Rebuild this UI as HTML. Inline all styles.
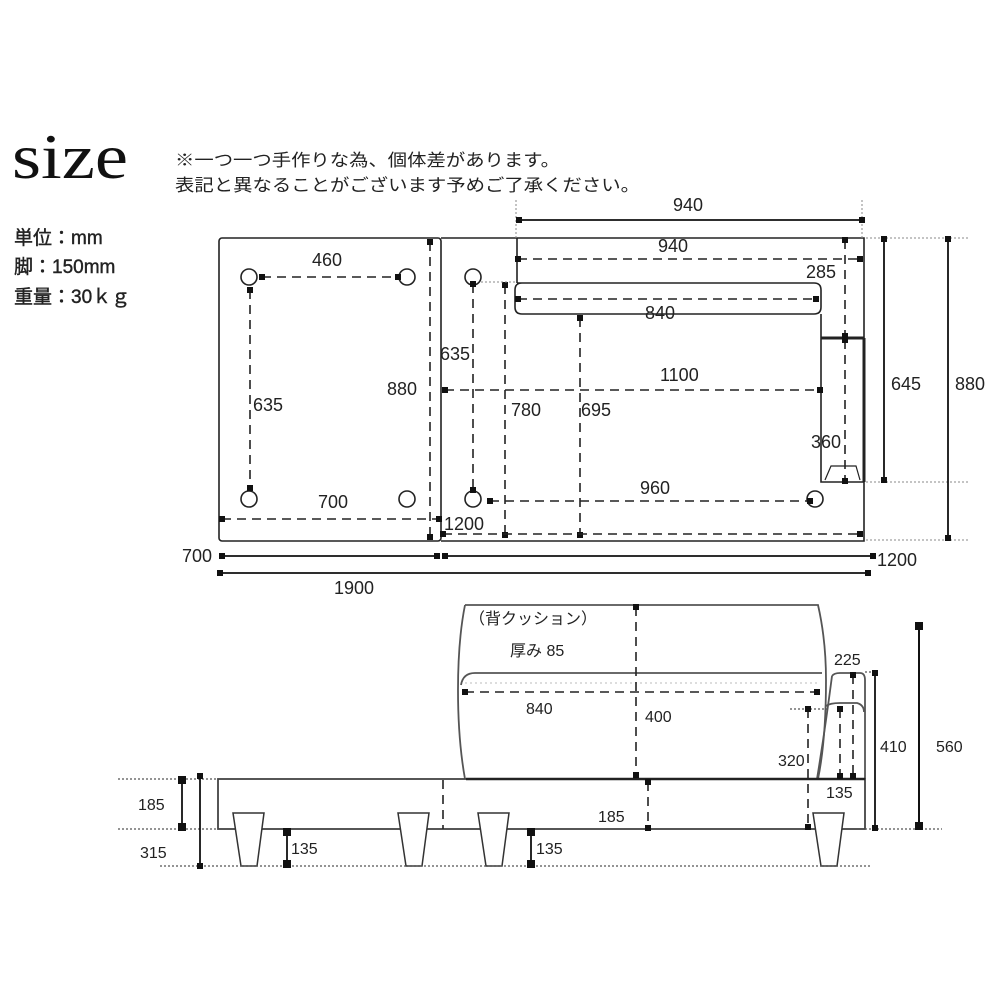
<!DOCTYPE html>
<html><head><meta charset="utf-8"><style>
html,body{margin:0;padding:0;background:#fff;}
svg{display:block;}
text{font-family:"Liberation Sans","Noto Sans CJK JP",sans-serif;fill:#222;}
</style></head><body>
<svg width="1000" height="1000" viewBox="0 0 1000 1000" xmlns="http://www.w3.org/2000/svg">
<defs>
<marker id="sq" viewBox="0 0 6 6" refX="3" refY="3" markerWidth="6" markerHeight="6" markerUnits="userSpaceOnUse"><rect width="6" height="6" fill="#111"/></marker>
<marker id="sqb" viewBox="0 0 8 8" refX="4" refY="4" markerWidth="8" markerHeight="8" markerUnits="userSpaceOnUse"><rect width="8" height="8" fill="#111"/></marker>
</defs>
<text x="12" y="178" style="font-family:'Liberation Serif',serif;font-size:64px;fill:#111" textLength="116" lengthAdjust="spacingAndGlyphs">size</text>
<text x="175" y="166" font-size="17" textLength="385" lengthAdjust="spacingAndGlyphs">※一つ一つ手作りな為、個体差があります。</text>
<text x="175" y="191" font-size="17" textLength="465" lengthAdjust="spacingAndGlyphs">表記と異なることがございます予めご了承ください。</text>
<g font-size="19" fill="#222" stroke="#222" stroke-width="0.4">
<text x="14" y="244">単位：mm</text>
<text x="14" y="273">脚：150mm</text>
<text x="14" y="303">重量：30ｋｇ</text>
</g>

<!-- PLAN -->
<g fill="none" stroke="#222" stroke-width="1.6">
<rect x="219" y="238" width="222" height="303" rx="3"/>
<path d="M441 238 H864 V541 H441"/>
<path d="M517 238 V283"/>
<path d="M517 283 H814 Q821 283 821 290 V307 Q821 314 814 314 H522 Q515 314 515 307 V290 Q515 283 522 283Z"/>
<path d="M821 314 V482 H864"/>
<path d="M821 338 H864" stroke-width="3"/>
<path d="M864 338 V482" stroke-width="3"/>
<path d="M825 480 L831 466 H856 L860 480" stroke-width="1.2"/>
<circle cx="249" cy="277" r="8"/><circle cx="407" cy="277" r="8"/>
<circle cx="249" cy="499" r="8"/><circle cx="407" cy="499" r="8"/>
<circle cx="473" cy="277" r="8"/><circle cx="473" cy="499" r="8"/>
<circle cx="815" cy="499" r="8"/>
</g>
<g stroke="#222" stroke-width="1.6" fill="none" stroke-dasharray="9,6" marker-start="url(#sq)" marker-end="url(#sq)">
<line x1="262" y1="277" x2="398" y2="277"/>
<line x1="250" y1="290" x2="250" y2="488"/>
<line x1="222" y1="519" x2="439" y2="519"/>
<line x1="430" y1="242" x2="430" y2="537"/>
<line x1="473" y1="284" x2="473" y2="490"/>
<line x1="445" y1="390" x2="820" y2="390"/>
<line x1="505" y1="285" x2="505" y2="535"/>
<line x1="580" y1="318" x2="580" y2="535"/>
<line x1="518" y1="299" x2="816" y2="299"/>
<line x1="518" y1="259" x2="860" y2="259"/>
<line x1="845" y1="240" x2="845" y2="336"/>
<line x1="845" y1="340" x2="845" y2="481"/>
<line x1="490" y1="501" x2="810" y2="501"/>
<line x1="443" y1="534" x2="860" y2="534"/>
</g>
<g stroke="#888" stroke-width="1" stroke-dasharray="2,2">
<line x1="481" y1="282" x2="515" y2="282"/>
<line x1="516" y1="200" x2="516" y2="238"/>
<line x1="862" y1="200" x2="862" y2="238"/>
<line x1="866" y1="238" x2="968" y2="238"/>
<line x1="866" y1="482" x2="968" y2="482"/>
<line x1="866" y1="540" x2="968" y2="540"/>
</g>
<g stroke="#111" stroke-width="1.8" marker-start="url(#sq)" marker-end="url(#sq)">
<line x1="519" y1="220" x2="862" y2="220"/>
<line x1="884" y1="239" x2="884" y2="480"/>
<line x1="948" y1="239" x2="948" y2="538"/>
<line x1="222" y1="556" x2="437" y2="556"/>
<line x1="445" y1="556" x2="873" y2="556"/>
<line x1="220" y1="573" x2="868" y2="573"/>
</g>
<g font-size="18">
<text x="673" y="211">940</text>
<text x="312" y="266">460</text>
<text x="658" y="252">940</text>
<text x="806" y="278">285</text>
<text x="645" y="319">840</text>
<text x="253" y="411">635</text>
<text x="387" y="395">880</text>
<text x="440" y="360">635</text>
<text x="660" y="381">1100</text>
<text x="511" y="416">780</text>
<text x="581" y="416">695</text>
<text x="811" y="448">360</text>
<text x="891" y="390">645</text>
<text x="955" y="390">880</text>
<text x="318" y="508">700</text>
<text x="640" y="494">960</text>
<text x="444" y="530">1200</text>
<text x="182" y="562">700</text>
<text x="877" y="566">1200</text>
<text x="334" y="594">1900</text>
</g>

<!-- ELEVATION -->
<g fill="none" stroke="#555" stroke-width="1.8">
<path d="M465 605 H818 Q826 640 826 680 Q826 740 818 779"/>
<path d="M465 605 Q458 640 458 690 Q458 740 465 779"/>
<path d="M461 685 Q463 673 475 673 H822"/>
<path d="M832 676 Q834 673 840 673 H860 Q865 673 865 680 V779"/>
<path d="M826 706 Q830 703 840 703 H857 Q864 705 864 712"/>
<path d="M817 779 Q825 730 832 676"/>
</g>
<rect x="218" y="779" width="647" height="50" fill="none" stroke="#444" stroke-width="1.8"/>
<line x1="466" y1="779" x2="865" y2="779" stroke="#222" stroke-width="2.5"/>
<g stroke="#bbb" stroke-width="1" stroke-dasharray="2,3"><line x1="465" y1="683" x2="820" y2="683"/></g>
<g fill="#fff" stroke="#333" stroke-width="1.5">
<path d="M233 813 H264 L257 866 H241Z"/>
<path d="M398 813 H429 L422 866 H406Z"/>
<path d="M478 813 H509 L502 866 H486Z"/>
<path d="M813 813 H844 L837 866 H821Z"/>
</g>
<g stroke="#555" stroke-width="1.2" stroke-dasharray="2,2">
<line x1="118" y1="779" x2="218" y2="779"/>
<line x1="118" y1="829" x2="218" y2="829"/>
<line x1="160" y1="866" x2="870" y2="866"/>
<line x1="865" y1="829" x2="942" y2="829"/>
<line x1="865" y1="672" x2="878" y2="672"/>
<line x1="790" y1="709" x2="830" y2="709"/>
</g>
<g stroke="#222" stroke-width="1.6" fill="none" stroke-dasharray="9,6" marker-start="url(#sq)" marker-end="url(#sq)">
<line x1="636" y1="607" x2="636" y2="775"/>
<line x1="648" y1="782" x2="648" y2="828"/>
<line x1="465" y1="692" x2="817" y2="692"/>
<line x1="808" y1="709" x2="808" y2="827"/>
<line x1="840" y1="709" x2="840" y2="776"/>
<line x1="853" y1="675" x2="853" y2="776"/>
</g>
<line x1="443" y1="780" x2="443" y2="829" stroke="#222" stroke-width="1.6" stroke-dasharray="9,6"/>
<g stroke="#111" stroke-width="1.8" marker-start="url(#sqb)" marker-end="url(#sqb)">
<line x1="182" y1="780" x2="182" y2="827"/>
<line x1="287" y1="832" x2="287" y2="864"/>
<line x1="531" y1="832" x2="531" y2="864"/>
</g>
<g stroke="#111" stroke-width="1.8" marker-start="url(#sq)" marker-end="url(#sq)">
<line x1="200" y1="776" x2="200" y2="866"/>
<line x1="875" y1="673" x2="875" y2="828"/>
</g>
<line x1="919" y1="626" x2="919" y2="826" stroke="#111" stroke-width="2" marker-start="url(#sqb)" marker-end="url(#sqb)"/>
<g font-size="16">
<text x="469" y="624">（背クッション）</text>
<text x="510" y="656">厚み 85</text>
<text x="526" y="714">840</text>
<text x="645" y="722">400</text>
<text x="834" y="665">225</text>
<text x="778" y="766">320</text>
<text x="826" y="798">135</text>
<text x="880" y="752">410</text>
<text x="936" y="752">560</text>
<text x="138" y="810">185</text>
<text x="598" y="822">185</text>
<text x="140" y="858">315</text>
<text x="291" y="854">135</text>
<text x="536" y="854">135</text>
</g>
</svg>
</body></html>
